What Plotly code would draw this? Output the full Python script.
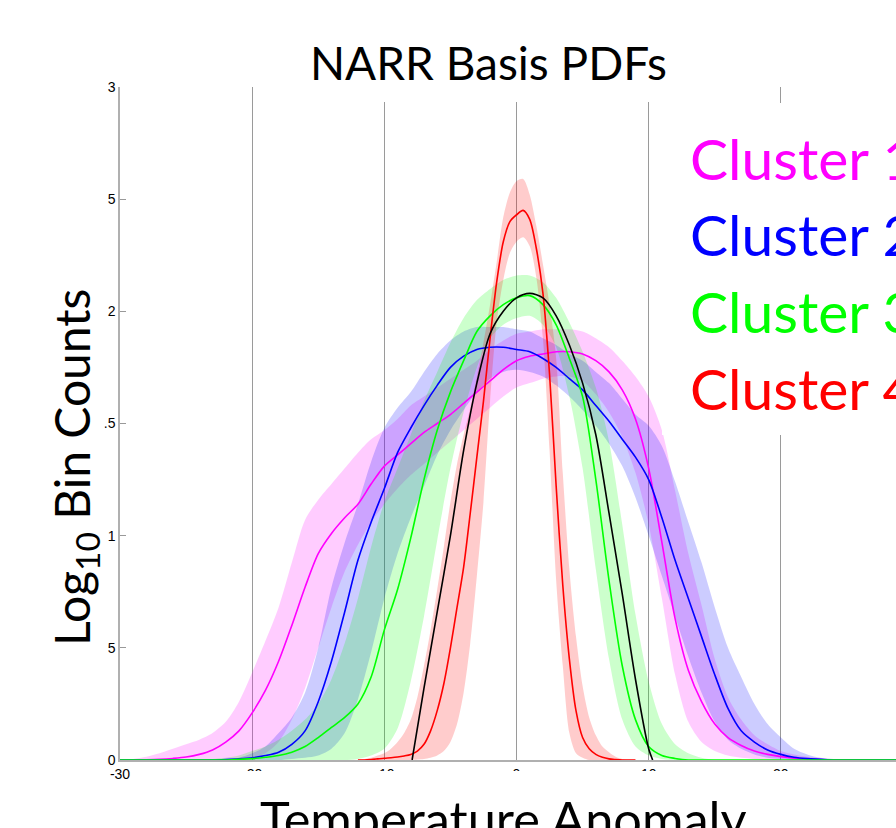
import plotly.graph_objects as go

# ---------------- data ----------------
X = list(range(-30, 31))  # temperature anomaly grid, 1-degree bins

C1_MEAN = [0, 0, 0.001, 0.003, 0.007, 0.013, 0.025, 0.045, 0.08, 0.13,
           0.21, 0.31, 0.44, 0.60, 0.77, 0.92, 1.01, 1.08, 1.14, 1.23,
           1.31, 1.36, 1.41, 1.46, 1.50, 1.54, 1.59, 1.64, 1.69, 1.74,
           1.78, 1.80, 1.81, 1.82, 1.82, 1.81, 1.78, 1.73, 1.65, 1.52,
           1.30, 0.97, 0.63, 0.40, 0.26, 0.16, 0.10, 0.065, 0.04, 0.025,
           0.015, 0.008, 0.004, 0.002, 0, 0, 0, 0, 0, 0, 0]
C1_HI = [0, 0.005, 0.015, 0.03, 0.05, 0.07, 0.09, 0.12, 0.17, 0.26,
         0.39, 0.53, 0.68, 0.88, 1.07, 1.16, 1.23, 1.30, 1.37, 1.43,
         1.47, 1.52, 1.58, 1.62, 1.66, 1.70, 1.74, 1.78, 1.83, 1.87,
         1.90, 1.91, 1.92, 1.92, 1.92, 1.91, 1.88, 1.84, 1.78, 1.71,
         1.62, 1.47, 1.20, 0.92, 0.69, 0.45, 0.28, 0.18, 0.11, 0.07,
         0.04, 0.025, 0.015, 0.008, 0.004, 0, 0, 0, 0, 0, 0]
C1_LO = [0, 0, 0, 0, 0, 0, 0, 0, 0, 0,
         0.01, 0.03, 0.08, 0.18, 0.32, 0.50, 0.68, 0.84, 0.96, 1.06,
         1.14, 1.21, 1.27, 1.32, 1.37, 1.42, 1.47, 1.52, 1.57, 1.62,
         1.66, 1.68, 1.70, 1.71, 1.71, 1.69, 1.63, 1.55, 1.44, 1.28,
         1.05, 0.72, 0.38, 0.17, 0.08, 0.04, 0.02, 0.01, 0.005, 0,
         0, 0, 0, 0, 0, 0, 0, 0, 0, 0, 0]

C2_MEAN = [0, 0, 0, 0, 0, 0, 0, 0, 0.002, 0.005,
           0.01, 0.02, 0.035, 0.07, 0.13, 0.26, 0.44, 0.66, 0.89, 1.06,
           1.21, 1.37, 1.48, 1.58, 1.67, 1.75, 1.80, 1.83, 1.84, 1.84,
           1.83, 1.82, 1.79, 1.75, 1.70, 1.65, 1.58, 1.51, 1.43, 1.35,
           1.25, 1.08, 0.89, 0.72, 0.55, 0.38, 0.23, 0.13, 0.08, 0.045,
           0.025, 0.012, 0.006, 0.003, 0, 0, 0, 0, 0, 0, 0]
C2_HI = [0, 0, 0, 0, 0, 0, 0, 0, 0, 0.01,
         0.03, 0.06, 0.12, 0.19, 0.30, 0.50, 0.77, 0.97, 1.14, 1.33,
         1.48, 1.57, 1.64, 1.73, 1.81, 1.87, 1.91, 1.93, 1.93, 1.93,
         1.92, 1.91, 1.88, 1.85, 1.81, 1.78, 1.73, 1.68, 1.61, 1.54,
         1.49, 1.40, 1.24, 1.06, 0.88, 0.68, 0.50, 0.37, 0.25, 0.16,
         0.10, 0.05, 0.025, 0.01, 0.004, 0, 0, 0, 0, 0, 0]
C2_LO = [0, 0, 0, 0, 0, 0, 0, 0, 0, 0,
         0, 0, 0, 0.005, 0.01, 0.02, 0.05, 0.12, 0.27, 0.48,
         0.72, 0.92, 1.08, 1.22, 1.36, 1.47, 1.56, 1.64, 1.70, 1.73,
         1.74, 1.73, 1.71, 1.67, 1.62, 1.56, 1.49, 1.41, 1.31, 1.17,
         1.00, 0.82, 0.64, 0.46, 0.30, 0.17, 0.09, 0.05, 0.025, 0.01,
         0.005, 0, 0, 0, 0, 0, 0, 0, 0, 0, 0]

C3_MEAN = [0, 0, 0, 0, 0, 0, 0, 0, 0, 0.003,
           0.006, 0.012, 0.02, 0.035, 0.06, 0.10, 0.145, 0.19, 0.25, 0.37,
           0.58, 0.76, 0.99, 1.25, 1.47, 1.64, 1.78, 1.91, 1.98, 2.03,
           2.06, 2.07, 2.03, 1.94, 1.79, 1.62, 1.25, 0.80, 0.42, 0.18,
           0.06, 0.02, 0.007, 0, 0, 0, 0, 0, 0, 0,
           0, 0, 0, 0, 0, 0, 0, 0, 0, 0, 0]
C3_HI = [0, 0, 0, 0, 0, 0, 0, 0.005, 0.01, 0.02,
         0.04, 0.06, 0.09, 0.13, 0.18, 0.25, 0.36, 0.52, 0.72, 0.95,
         1.15, 1.30, 1.45, 1.60, 1.73, 1.86, 1.97, 2.05, 2.10, 2.14,
         2.16, 2.16, 2.13, 2.06, 1.95, 1.82, 1.66, 1.42, 1.05, 0.65,
         0.35, 0.16, 0.07, 0.03, 0.01, 0, 0, 0, 0, 0,
         0, 0, 0, 0, 0, 0, 0, 0, 0, 0, 0]
C3_LO = [0, 0, 0, 0, 0, 0, 0, 0, 0, 0,
         0, 0, 0, 0, 0, 0, 0, 0, 0.005, 0.02,
         0.05, 0.14, 0.35, 0.64, 0.98, 1.30, 1.55, 1.75, 1.88, 1.94,
         1.97, 1.98, 1.94, 1.84, 1.62, 1.30, 0.85, 0.45, 0.18, 0.06,
         0.02, 0.005, 0, 0, 0, 0, 0, 0, 0, 0,
         0, 0, 0, 0, 0, 0, 0, 0, 0, 0, 0]

# Cluster 4 is narrow, so it is read on half-degree bins
X4 = [-12, -11.5, -11, -10.5, -10, -9.5, -9, -8.5, -8, -7.5,
      -7, -6.5, -6, -5.5, -5, -4.5, -4, -3.5, -3, -2.5,
      -2, -1.5, -1, -0.5, 0, 0.5, 1, 1.5, 2, 2.5,
      3, 3.5, 4, 4.5, 5, 5.5, 6, 6.5, 7, 7.5,
      8, 8.5, 9]
C4_MEAN = [0, 0, 0.002, 0.005, 0.008, 0.01, 0.013, 0.018, 0.025, 0.04,
           0.07, 0.13, 0.22, 0.34, 0.50, 0.68, 0.86, 1.10, 1.35, 1.60,
           1.88, 2.13, 2.31, 2.40, 2.43, 2.45, 2.41, 2.28, 2.08, 1.72,
           1.22, 0.78, 0.45, 0.22, 0.10, 0.05, 0.025, 0.012, 0.005, 0.002,
           0, 0, 0]
C4_HI = [0, 0.005, 0.01, 0.02, 0.03, 0.05, 0.08, 0.12, 0.18, 0.28,
         0.42, 0.58, 0.76, 0.95, 1.15, 1.32, 1.45, 1.57, 1.71, 1.86,
         2.03, 2.22, 2.42, 2.53, 2.58, 2.59, 2.52, 2.38, 2.21, 2.03,
         1.79, 1.28, 0.85, 0.55, 0.33, 0.19, 0.11, 0.06, 0.035, 0.015,
         0.005, 0, 0]
C4_LO = [0, 0, 0, 0, 0, 0, 0, 0, 0, 0.002,
         0.005, 0.01, 0.02, 0.04, 0.08, 0.16, 0.30, 0.52, 0.82, 1.15,
         1.60, 1.95, 2.14, 2.26, 2.31, 2.33, 2.29, 2.15, 1.88, 1.38,
         0.80, 0.42, 0.12, 0.03, 0.01, 0, 0, 0, 0, 0,
         0, 0, 0]

# pooled (black) curve
XK = [-7.9, -7, -6, -5, -4, -3, -2, -1, 0, 1, 2, 3, 4, 5, 6, 7, 8, 9, 10, 10.3]
K_MEAN = [0, 0.32, 0.66, 1.00, 1.38, 1.68, 1.90, 2.00, 2.06, 2.08,
          2.06, 1.98, 1.85, 1.68, 1.45, 1.10, 0.74, 0.36, 0.05, 0]

CLUSTER_NAMES = ["Cluster 1", "Cluster 2", "Cluster 3", "Cluster 4"]
X_TICKS = [-30, -20, -10, 0, 10, 20]
X_TICK_TEXT = ["-30", "-20", "-10", "0", "10", "20"]
Y_TICKS = [0, 0.5, 1, 1.5, 2, 2.5, 3]
Y_TICK_TEXT = ["0", "5", "1", ".5", "2", "5", "3"]

# ---------------- styling ----------------
COLORS = ["#FF00FF", "#0000FF", "#00FF00", "#FF0000"]
BAND_RGBA = ["rgba(255,0,255,0.2)", "rgba(0,0,255,0.2)",
             "rgba(0,255,0,0.2)", "rgba(255,0,0,0.2)"]
FONT = "Lato"

# plot area in pixels (for placing paper-referenced decorations)
L, R_, T, B = 120, 896, 87, 760
def px(xp):
    return (xp - L) / (R_ - L)
def py(yp):
    return (B - yp) / (B - T)

fig = go.Figure()

series = [
    (X, C1_MEAN, C1_LO, C1_HI),
    (X, C2_MEAN, C2_LO, C2_HI),
    (X, C3_MEAN, C3_LO, C3_HI),
    (X4, C4_MEAN, C4_LO, C4_HI),
]

for i, (xs, m, lo, hi) in enumerate(series):
    fig.add_trace(go.Scatter(
        x=list(xs) + list(xs)[::-1], y=list(hi) + list(lo)[::-1],
        fill="toself", fillcolor=BAND_RGBA[i], mode="lines",
        line=dict(width=0, shape="spline", smoothing=0.8),
        hoverinfo="skip", showlegend=False))

for i, (xs, m, lo, hi) in enumerate(series):
    fig.add_trace(go.Scatter(
        x=xs, y=m, mode="lines", name=CLUSTER_NAMES[i],
        line=dict(color=COLORS[i], width=1.6, shape="spline", smoothing=0.8),
        showlegend=False))

fig.add_trace(go.Scatter(
    x=XK, y=K_MEAN, mode="lines", name="All",
    line=dict(color="black", width=1.6, shape="spline", smoothing=0.8),
    showlegend=False))

fig.update_layout(
    width=896, height=828,
    margin=dict(l=L, r=896 - R_, t=T, b=828 - B),
    paper_bgcolor="white", plot_bgcolor="white",
    showlegend=False,
    xaxis=dict(range=[-30, -30 + (R_ - L) / 13.217], tickvals=X_TICKS,
               ticktext=X_TICK_TEXT, showgrid=True, gridcolor="#9a9a9a",
               gridwidth=1, showline=True, linecolor="#b0b0b0", linewidth=1.5,
               zeroline=False, ticks="",
               tickfont=dict(family="Liberation Sans", size=14, color="black")),
    yaxis=dict(range=[0, 3], tickvals=Y_TICKS, ticktext=Y_TICK_TEXT,
               showgrid=False, showline=True, linecolor="#b0b0b0", linewidth=1.5,
               zeroline=False, ticks="inside", ticklen=6, tickcolor="#999999",
               tickfont=dict(family="Liberation Sans", size=14, color="black")),
)

# white text boxes of the original slide that hide parts of the grid
fig.add_shape(type="rect", xref="paper", yref="paper", layer="above",
              x0=px(300), x1=px(700), y0=py(102), y1=py(80),
              fillcolor="white", line=dict(width=0))
fig.add_shape(type="rect", xref="paper", yref="paper", layer="above",
              x0=px(662), x1=1.0, y0=py(435), y1=py(103),
              fillcolor="white", line=dict(width=0))
fig.add_shape(type="rect", xref="paper", yref="paper", layer="above",
              x0=px(140), x1=1.0, y0=py(796), y1=py(771),
              fillcolor="white", line=dict(width=0))

fig.add_annotation(text="NARR Basis PDFs", xref="paper", yref="paper",
                   x=px(488), y=py(63), showarrow=False,
                   xanchor="center", yanchor="middle",
                   font=dict(family=FONT, size=46, color="black"))

legend_y = [158, 234, 311, 388]
for name, col, yy in zip(CLUSTER_NAMES, COLORS, legend_y):
    fig.add_annotation(text=name, xref="paper", yref="paper",
                       x=px(688), y=py(yy), showarrow=False,
                       xanchor="left", yanchor="middle",
                       font=dict(family=FONT, size=57, color=col))

fig.add_annotation(text="Log<sub>10</sub> Bin Counts", xref="paper", yref="paper",
                   x=px(75), y=py(468), showarrow=False, textangle=-90,
                   xanchor="center", yanchor="middle",
                   font=dict(family=FONT, size=48, color="black"))

fig.add_annotation(text="Temperature Anomaly", xref="paper", yref="paper",
                   x=px(503), y=py(818), showarrow=False,
                   xanchor="center", yanchor="middle",
                   font=dict(family=FONT, size=50.5, color="black"))

fig.write_html("out.html",
               config={"displayModeBar": False},
               post_script="document.body.style.margin='0px';"
                           "document.body.style.overflow='hidden';")
